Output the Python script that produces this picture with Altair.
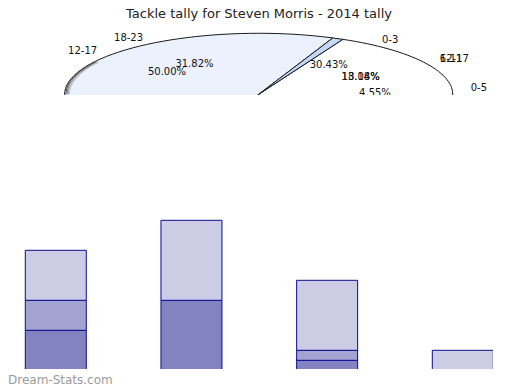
import math
import altair as alt
import pandas as pd

# ---------------- data ----------------
title_text = "Tackle tally for Steven Morris - 2014 tally"

# pie slices (drawn clockwise from the start angle)
pie_slices = ["Slice A", "Slice B", "Slice C"]
pie_values = [50.0, 49.1, 0.9]

# pie labels (two overlapping label sets, as in the source)
label_names = ["18-23", "12-17", "0-3", "6-11", "12-17", "0-5"]
label_pcts = ["31.82%", "50.00%", "30.43%", "13.04%", "18.18%", "4.55%"]
name_angles = [-32.9, -49.4, 35.4, 58.3, 58.3, 84.9]
pct_angles = [-33.5, -52.0, 37.0, 61.1, 61.1, 87.5]

# stacked bars
bar_cats = ["0-5", "6-11", "12-17", "18-23"]
series_names = ["A", "B", "C"]
series_a = [4, 7, 1, 0]
series_b = [3, 0, 1, 0]
series_c = [5, 8, 7, 2]

watermark = "Dream-Stats.com"

# ---------------- styles / layout ----------------
FONT = "DejaVu Sans"
pie_fills = ["#ffffff", "#ecf2fd", "#c5d8f8"]
bar_fills = ["#8383c1", "#a3a3d1", "#ccccE4"]
bar_stroke = "#0c0c90"

P1_W, P1_H = 504, 87
P2_W, P2_H = 485, 169
SPACING = 105
CX, CY = 250.7, 86.3      # pie centre (panel pixels)
RX, RY = 194.0, 61.0      # pie ellipse radii
K = round(RY / RX, 5)
SIZE = round((2 * RX) ** 2)
START = math.radians(25.7)
R_NAME, R_PCT = 1.097, 0.60


def ell(a):
    return f"{math.sin(a):.5f},{-K * math.cos(a):.5f}"


# ---------------- pie panel ----------------
total = sum(pie_values)
layers = []
cum = 0.0
for name, val, fill in zip(pie_slices, pie_values, pie_fills):
    a0 = START + 2 * math.pi * cum / total
    cum += val
    a1 = START + 2 * math.pi * cum / total
    large = 1 if (a1 - a0) > math.pi else 0
    path = f"M0,0L{ell(a0)}A1,{K},0,{large},1,{ell(a1)}Z"
    layers.append(
        alt.Chart(pd.DataFrame({"slice": [name], "value": [val]}))
        .mark_point(shape=path, filled=True, fill=fill, stroke="#1a1a1a", strokeWidth=1, opacity=1, clip=True)
        .encode(x=alt.value(CX), y=alt.value(CY), size=alt.value(SIZE))
    )

# thin shading along the lower left rim
rim_path = f"M{ell(math.radians(-90))}A1,{K},0,0,1,{ell(math.radians(-58))}"
for off, col in [(1.2, "#444444"), (2.4, "#777777"), (3.6, "#a0a0a0"), (4.8, "#c8c8c8")]:
    layers.append(
        alt.Chart(pd.DataFrame({"d": [0]}))
        .mark_point(shape=rim_path, filled=False, stroke=col, strokeWidth=1, opacity=1, clip=True)
        .encode(x=alt.value(CX + off), y=alt.value(CY), size=alt.value(SIZE))
    )

xs = alt.Scale(domain=[0, P1_W], nice=False, zero=False)
ys = alt.Scale(domain=[0, P1_H], nice=False, zero=False, reverse=True)

lab_df = pd.DataFrame({"name": label_names, "pct": label_pcts, "na": name_angles, "pa": pct_angles})
lab_base = alt.Chart(lab_df).transform_calculate(
    nx=f"{CX} + {RX * R_NAME}*sin(datum.na*PI/180)",
    ny=f"{CY} - {RY * R_NAME}*cos(datum.na*PI/180)",
    px=f"{CX} + {RX * R_PCT}*sin(datum.pa*PI/180)",
    py=f"{CY} - {RY * R_PCT}*cos(datum.pa*PI/180)",
)
txt = dict(font=FONT, fontSize=10, fill="#111111", baseline="middle", clip=True)
layers.append(
    lab_base.transform_filter("datum.na > 0").mark_text(align="left", **txt).encode(
        x=alt.X("nx:Q", scale=xs, axis=None), y=alt.Y("ny:Q", scale=ys, axis=None), text="name:N"
    )
)
layers.append(
    lab_base.transform_filter("datum.na <= 0").mark_text(align="right", **txt).encode(
        x=alt.X("nx:Q", scale=xs, axis=None), y=alt.Y("ny:Q", scale=ys, axis=None), text="name:N"
    )
)
layers.append(
    lab_base.mark_text(align="center", **txt).encode(
        x=alt.X("px:Q", scale=xs, axis=None), y=alt.Y("py:Q", scale=ys, axis=None), text="pct:N"
    )
)
layers.append(
    alt.Chart(pd.DataFrame({"t": [title_text]}))
    .mark_text(font=FONT, fontSize=13, fill="#222222", align="center", baseline="top")
    .encode(x=alt.value(251), y=alt.value(0), text="t:N")
)

panel1 = alt.layer(*layers).properties(width=P1_W, height=P1_H)

# ---------------- bar panel ----------------
rows = []
for si, (sname, vals) in enumerate(zip(series_names, [series_a, series_b, series_c])):
    for ci, (cat, v) in enumerate(zip(bar_cats, vals)):
        rows.append({"cat": cat, "pos": ci, "series": sname, "value": v, "ord": si})
bar_df = pd.DataFrame(rows)

STEP = 135.67          # pixels between bar centres
BAR_W = 61
FIRST_CENTER = 47.8    # pixels from panel left to first bar centre
x_min = round(-FIRST_CENTER / STEP, 4)
x_max = round(x_min + P2_W / STEP, 4)
y_min = 0.13
y_max = round(y_min + P2_H / 10.0, 3)

bars = (
    alt.Chart(bar_df)
    .transform_filter("datum.value > 0")
    .mark_bar(size=BAR_W, stroke=bar_stroke, strokeWidth=1, opacity=1, clip=True)
    .encode(
        x=alt.X("pos:Q", scale=alt.Scale(domain=[x_min, x_max], nice=False, zero=False, padding=0), axis=None),
        y=alt.Y("value:Q", stack="zero", scale=alt.Scale(domain=[y_min, y_max], nice=False, zero=False, padding=0), axis=None),
        color=alt.Color("series:N", scale=alt.Scale(domain=series_names, range=bar_fills), legend=None),
        order=alt.Order("ord:Q"),
        detail="cat:N",
    )
)

wm = (
    alt.Chart(pd.DataFrame({"t": [watermark]}))
    .mark_text(font=FONT, fontSize=12, fill="#9b9b9b", align="left", baseline="middle")
    .encode(x=alt.value(0), y=alt.value(180), text="t:N")
)

panel2 = alt.layer(bars, wm).properties(width=P2_W, height=P2_H)

chart = (
    alt.vconcat(panel1, panel2, spacing=SPACING, padding=0, background="#ffffff")
    .configure_view(strokeWidth=0)
)

chart.save("out.html", embed_options={"renderer": "svg", "actions": False})
